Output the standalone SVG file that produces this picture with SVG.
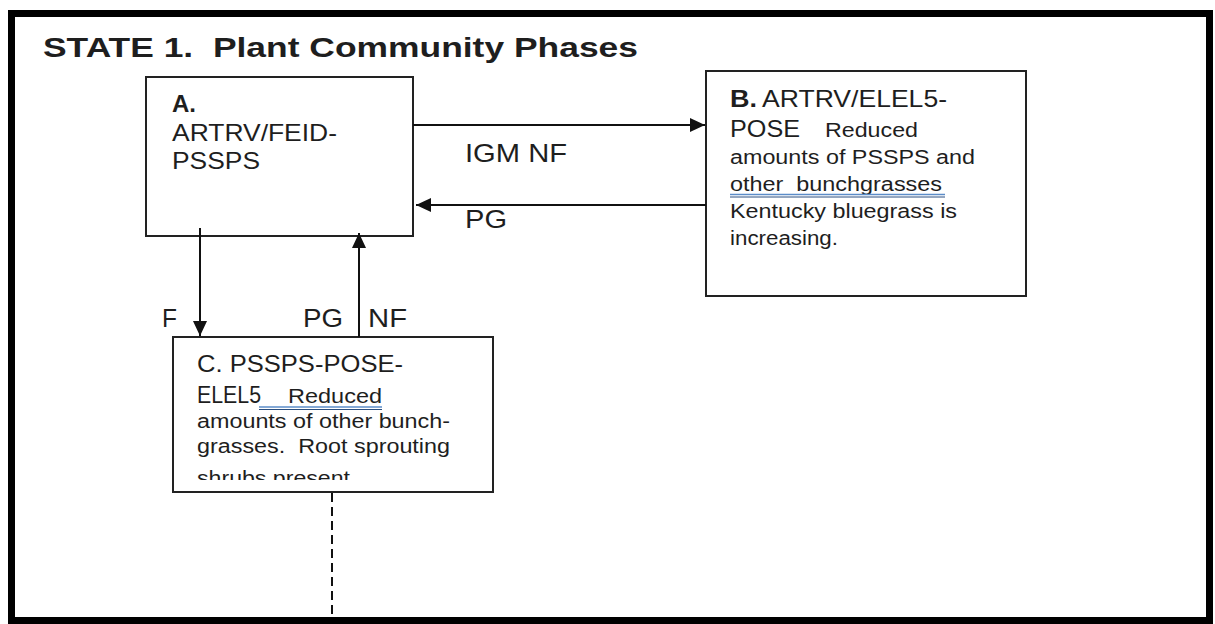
<svg xmlns="http://www.w3.org/2000/svg" width="1215" height="624" viewBox="0 0 1215 624">
<style>
.t{font-family:"Liberation Sans",Arial,sans-serif;fill:#1e1e1e;white-space:pre}
.b{font-weight:bold}
.box{fill:#fff;stroke:#222;stroke-width:2}
.con{stroke:#111;stroke-width:2;fill:none}
</style>
<defs>
<marker id="ah" markerUnits="userSpaceOnUse" markerWidth="16" markerHeight="14" refX="15" refY="7" orient="auto">
<path d="M0,0 L15,7 L0,14 z" fill="#111"/>
</marker>
<clipPath id="clipC"><rect x="174" y="338" width="318" height="142"/></clipPath>
</defs>
<rect x="0" y="0" width="1215" height="624" fill="#fff"/>
<rect x="11.5" y="13.5" width="1198" height="607" fill="none" stroke="#000" stroke-width="7"/>
<text class="t b" x="43" y="57" font-size="28" textLength="595" lengthAdjust="spacingAndGlyphs" fill="#111">STATE 1.  Plant Community Phases</text>

<g id="nodeA">
<rect class="box" x="146" y="77" width="267" height="159"/>
<text class="t b" x="172" y="112" font-size="24">A.</text>
<text class="t" x="172" y="141" font-size="24" textLength="165" lengthAdjust="spacingAndGlyphs">ARTRV/FEID-</text>
<text class="t" x="172" y="169" font-size="24" textLength="88" lengthAdjust="spacingAndGlyphs">PSSPS</text>
</g>

<g id="nodeB">
<rect class="box" x="706" y="71" width="320" height="225"/>
<text class="t b" x="730" y="107" font-size="24" textLength="27" lengthAdjust="spacingAndGlyphs">B.</text>
<text class="t" x="762" y="107" font-size="24" textLength="185" lengthAdjust="spacingAndGlyphs">ARTRV/ELEL5-</text>
<text class="t" x="730" y="137" font-size="24" textLength="70" lengthAdjust="spacingAndGlyphs">POSE</text>
<text class="t" x="825" y="137" font-size="20" textLength="93" lengthAdjust="spacingAndGlyphs">Reduced</text>
<text class="t" x="730" y="164" font-size="20" textLength="245" lengthAdjust="spacingAndGlyphs">amounts of PSSPS and</text>
<text class="t" x="730" y="191" font-size="20" textLength="212" lengthAdjust="spacingAndGlyphs">other  bunchgrasses</text>
<line x1="730" y1="194.5" x2="945" y2="194.5" stroke="#5b8cc8" stroke-width="1.5"/>
<line x1="730" y1="197" x2="945" y2="197" stroke="#2b4f80" stroke-width="1"/>
<text class="t" x="730" y="218" font-size="20" textLength="227" lengthAdjust="spacingAndGlyphs">Kentucky bluegrass is</text>
<text class="t" x="730" y="245" font-size="20" textLength="108" lengthAdjust="spacingAndGlyphs">increasing.</text>
</g>

<g id="nodeC">
<rect class="box" x="173" y="337" width="320" height="155"/>
<text class="t" x="197" y="372" font-size="24" textLength="206" lengthAdjust="spacingAndGlyphs">C. PSSPS-POSE-</text>
<text class="t" x="197" y="403" font-size="24" textLength="64" lengthAdjust="spacingAndGlyphs">ELEL5</text>
<text class="t" x="288" y="403" font-size="20" textLength="94" lengthAdjust="spacingAndGlyphs">Reduced</text>
<line x1="259" y1="407" x2="382" y2="407" stroke="#5b8cc8" stroke-width="1.5"/>
<line x1="259" y1="409.5" x2="382" y2="409.5" stroke="#2b4f80" stroke-width="1"/>
<text class="t" x="197" y="428" font-size="20" textLength="253" lengthAdjust="spacingAndGlyphs">amounts of other bunch-</text>
<text class="t" x="197" y="453" font-size="20" textLength="253" lengthAdjust="spacingAndGlyphs">grasses.  Root sprouting</text>
<g clip-path="url(#clipC)">
<text class="t" x="197" y="485" font-size="20" textLength="153" lengthAdjust="spacingAndGlyphs">shrubs present</text>
</g>
</g>

<g id="connectors">
<line class="con" x1="413" y1="125" x2="705" y2="125" marker-end="url(#ah)"/>
<line class="con" x1="706" y1="205" x2="416" y2="205" marker-end="url(#ah)"/>
<line class="con" x1="200" y1="228" x2="200" y2="336" marker-end="url(#ah)"/>
<line class="con" x1="359" y1="337" x2="359" y2="233" marker-end="url(#ah)"/>
<line class="con" x1="332" y1="493" x2="332" y2="618" stroke-dasharray="9,5"/>
<text class="t" x="465" y="162" font-size="26" textLength="102" lengthAdjust="spacingAndGlyphs">IGM NF</text>
<text class="t" x="465" y="228" font-size="26" textLength="42" lengthAdjust="spacingAndGlyphs">PG</text>
<text class="t" x="162" y="327" font-size="25" textLength="15" lengthAdjust="spacingAndGlyphs">F</text>
<text class="t" x="303" y="327" font-size="25" textLength="40" lengthAdjust="spacingAndGlyphs">PG</text>
<text class="t" x="368" y="327" font-size="25" textLength="39" lengthAdjust="spacingAndGlyphs">NF</text>
</g>
</svg>
